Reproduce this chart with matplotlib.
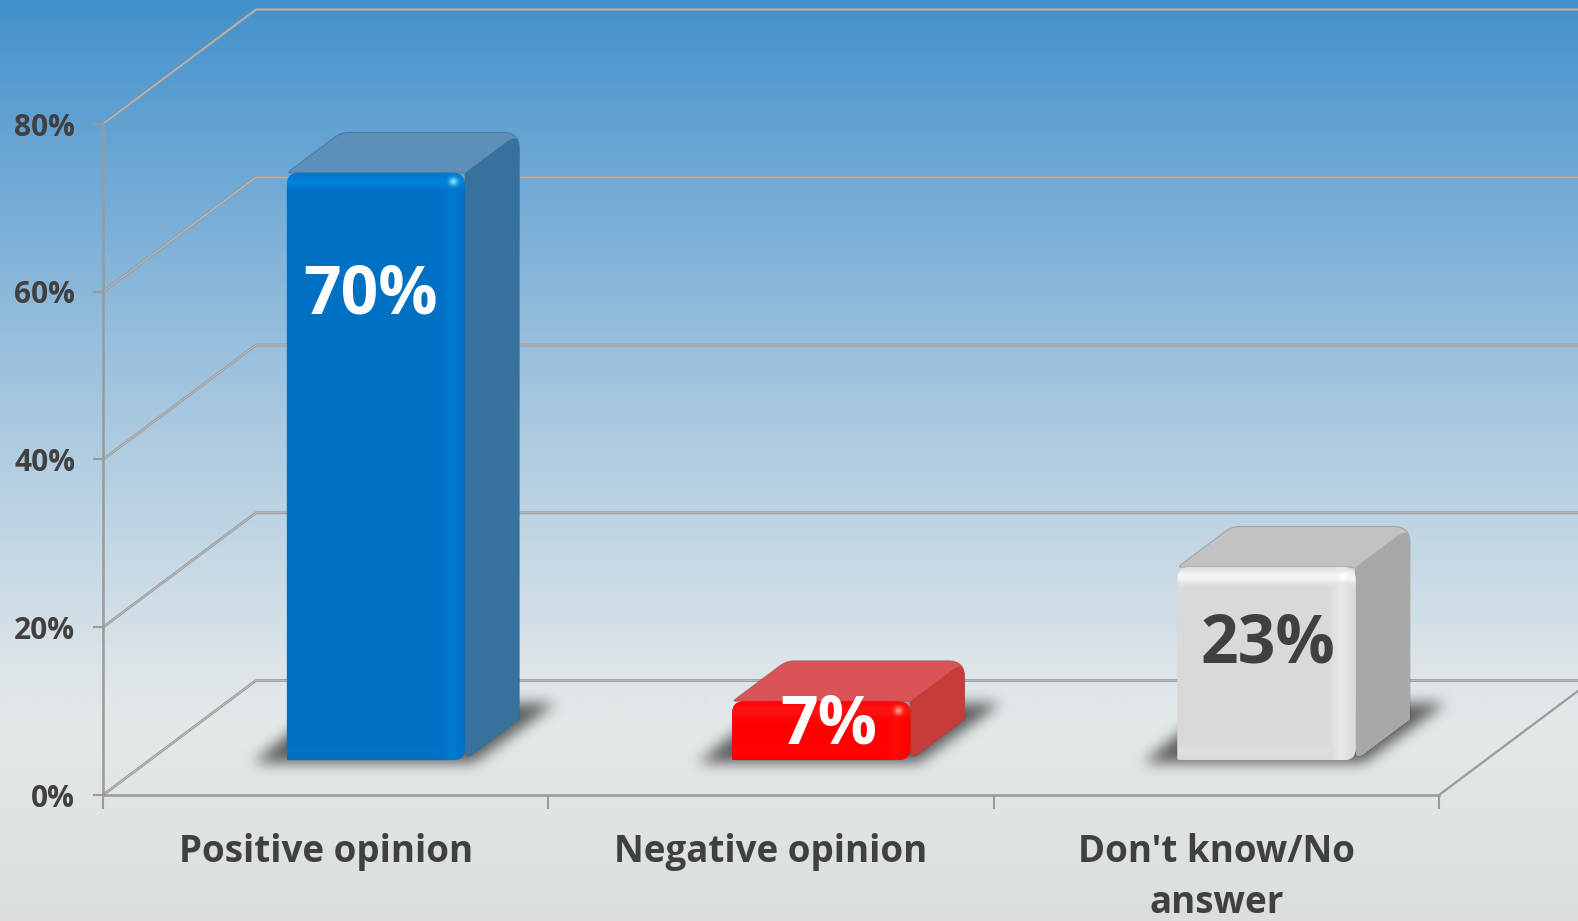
import numpy as np
import matplotlib
matplotlib.use("Agg")
import matplotlib.pyplot as plt
from matplotlib.path import Path
from matplotlib.patches import PathPatch
from matplotlib.colors import to_rgb

# ---- data ----
categories = ["Positive opinion", "Negative opinion", "Don't know/No\nanswer"]
values = [70, 7, 23]
value_labels = ["70%", "7%", "23%"]
y_ticks = [0, 20, 40, 60, 80]
y_tick_labels = ["0%", "20%", "40%", "60%", "80%"]

# ---- style ----
front_colors = ["#0070C2", "#FF0000", "#D9D9D9"]
edge_colors = ["#0082DC", "#FF1212", "#F6F6F6"]
spec_colors = ["#7FE0FF", "#FF9A80", "#FFFFFF"]
side_colors = ["#37729F", "#C63C38", "#A8A8A8"]
top_colors = ["#5C8FBA", "#DA5358", "#C2C2C2"]
label_colors = ["white", "white", "#404040"]
label_px = [(371, 296), (829, 726), (1268, 645)]
text_color = "#404040"
line_color = "#9A9A9A"
FONT = "Open Sans"

W, H = 1578, 921
AX_L, AX_R, AX_B, AX_T = 103, 1439, 795, 124
WALL_DX, WALL_DY = 153.0, 114.5
D0, D1 = 0.305, 0.66
BAR_W = 0.40
BAR_SHIFT = 0.008

fig = plt.figure(figsize=(W / 100, H / 100), dpi=100)

# background gradient
bg = fig.add_axes([0, 0, 1, 1], zorder=0)
stops_y = [0, 200, 400, 600, 680, 730, 921]
stops_c = ["#4291CB", "#75ACD7", "#A5C6DF", "#CEDDE6", "#DFE6E9", "#E3E8E9", "#DADEDF"]
rows = np.arange(H)
stops_rgb = np.array([to_rgb(c) for c in stops_c])
grad = np.stack([np.interp(rows, stops_y, stops_rgb[:, i]) for i in range(3)], axis=1)[:, None, :]
bg.imshow(grad, aspect="auto", extent=(0, 1, 0, 1), origin="upper")
bg.axis("off")

ax = fig.add_axes([AX_L / W, 1 - AX_B / H, (AX_R - AX_L) / W, (AX_B - AX_T) / H], zorder=1)
ax.patch.set_visible(False)
ax.set_xlim(0, len(categories))
ax.set_ylim(0, 80)
PX_X = (AX_R - AX_L) / len(categories)
PX_Y = (AX_B - AX_T) / 80.0


def proj(c, v, d):
    """Oblique projection of (category position, value, depth 0..1) to axes data."""
    return c + d * WALL_DX / PX_X, v + d * WALL_DY / PX_Y


def rounded(points, radii):
    """Closed path through data-space points with corners rounded by radii (px)."""
    pts = np.array(points, float) * [PX_X, PX_Y]
    n = len(pts)
    verts, codes = [], []
    for i in range(n):
        p, a, b = pts[i], pts[i - 1], pts[(i + 1) % n]
        r = radii[i]
        ua = (a - p) / np.linalg.norm(a - p)
        ub = (b - p) / np.linalg.norm(b - p)
        s, e = p + ua * r, p + ub * r
        verts.append(s); codes.append(Path.MOVETO if i == 0 else Path.LINETO)
        verts.extend([p, e]); codes.extend([Path.CURVE3, Path.CURVE3])
    verts.append(verts[0]); codes.append(Path.CLOSEPOLY)
    return Path(np.array(verts) / [PX_X, PX_Y], codes)


def box_blur(a, k):
    ker = np.ones(2 * k + 1) / (2 * k + 1)
    for _ in range(3):
        a = np.apply_along_axis(lambda m: np.convolve(m, ker, mode="same"), 0, a)
        a = np.apply_along_axis(lambda m: np.convolve(m, ker, mode="same"), 1, a)
    return a


def draw_shadow(x0, x1):
    base_l = proj(x0, 0, D0)
    base_r = proj(x1, 0, D0)
    poly = [
        (base_l[0] - 34 / PX_X, base_l[1] - 3 / PX_Y),
        (base_r[0] + 8 / PX_X, base_r[1] - 3 / PX_Y),
        (base_r[0] + 90 / PX_X, base_r[1] + 56 / PX_Y),
        (base_l[0] + 40 / PX_X, base_l[1] + 56 / PX_Y),
    ]
    pad = 50
    xa, xb = base_l[0] - (34 + pad) / PX_X, base_r[0] + (90 + pad) / PX_X
    ya, yb = base_l[1] - (3 + pad) / PX_Y, base_r[1] + (56 + pad) / PX_Y
    nx, ny = int((xb - xa) * PX_X), int((yb - ya) * PX_Y)
    xs = np.linspace(xa, xb, nx)
    ys = np.linspace(yb, ya, ny)
    gx, gy = np.meshgrid(xs, ys)
    mask = Path(poly).contains_points(np.c_[gx.ravel(), gy.ravel()]).reshape(ny, nx).astype(float)
    alpha = box_blur(mask, 6) * 0.85
    img = np.zeros((ny, nx, 4))
    img[..., :3] = 0.27
    img[..., 3] = alpha
    ax.imshow(img, extent=(xa, xb, ya, yb), origin="upper", aspect="auto", zorder=3,
              interpolation="bilinear", clip_on=False)


def draw_bar(i, val):
    x0 = i + 0.5 + BAR_SHIFT - BAR_W / 2
    x1 = x0 + BAR_W
    draw_shadow(x0, x1)

    fl = proj(x0, 0, D0); fr = proj(x1, 0, D0)
    tl = proj(x0, val, D0); tr = proj(x1, val, D0)
    bbr = proj(x1, 0, D1); btr = proj(x1, val, D1); btl = proj(x0, val, D1)

    # top + side silhouette
    sil = rounded([tl, btl, btr, bbr, fr, tr], [4, 8, 16, 1, 10, 4])
    ax.add_patch(PathPatch(sil, facecolor=top_colors[i], edgecolor="#00000030", lw=0.8, zorder=4))

    # side face
    side = rounded([tr, btr, bbr, fr], [2, 16, 1, 10])
    ax.add_patch(PathPatch(side, facecolor=side_colors[i], edgecolor="none", zorder=5))

    # front face with a shaded image clipped to a rounded outline
    front = rounded([fl, tl, tr, fr], [2, 12, 12, 12])
    fp = PathPatch(front, facecolor=front_colors[i], edgecolor="none", zorder=6)
    ax.add_patch(fp)
    nx = int((fr[0] - fl[0]) * PX_X)
    ny = int((tl[1] - fl[1]) * PX_Y)
    px, py = np.meshgrid(np.arange(nx), np.arange(ny))
    base = np.array(to_rgb(front_colors[i]))
    edge = np.array(to_rgb(edge_colors[i]))
    spec = np.array(to_rgb(spec_colors[i]))
    d_top = np.abs(py - 9)
    d_right = np.abs(nx - 1 - px - 14)
    d_bot = np.abs(ny - 1 - py - 9)
    w = np.maximum.reduce([np.exp(-(d_top / 7.0) ** 2),
                           np.exp(-(d_right / 9.0) ** 2) * 0.5,
                           np.exp(-(d_bot / 5.0) ** 2) * 0.2])
    s = np.exp(-(((px - (nx - 13)) / 4.0) ** 2 + ((py - 9) / 4.0) ** 2))
    img = base + (edge - base) * w[..., None]
    img = img + (spec - img) * s[..., None]
    im = ax.imshow(np.clip(img, 0, 1), extent=(fl[0], fr[0], fl[1], tl[1]), origin="upper",
                   aspect="auto", zorder=7, interpolation="bilinear")
    im.set_clip_path(fp)


# walls: gridlines on back wall and side wall
for v in y_ticks:
    a = proj(0, v, 0); b = proj(0, v, 1)
    c = proj(len(categories) + 1, v, 1)
    for lw, col in ((2.0, line_color), (0.5, "#C8CCD0")):
        ax.plot([a[0], b[0], c[0]], [a[1], b[1], c[1]], color=col, lw=lw, clip_on=False, zorder=2,
                solid_joinstyle="round")
a = proj(len(categories), 0, 0); b = proj(len(categories), 0, 1)
ax.plot([a[0], b[0]], [a[1], b[1]], color=line_color, lw=1.6, clip_on=False, zorder=2)

for i, val in enumerate(values):
    draw_bar(i, val)

ax.set_xlim(0, len(categories))
ax.set_ylim(0, 80)

# axes furniture
for name in ("top", "right"):
    ax.spines[name].set_visible(False)
for name in ("left", "bottom"):
    ax.spines[name].set_color(line_color)
    ax.spines[name].set_linewidth(1.8)

ax.set_yticks(y_ticks)
ax.set_yticklabels(y_tick_labels, fontfamily=FONT, fontweight="bold", fontsize=21.5, color=text_color)
ax.tick_params(axis="y", length=7, width=1.5, color=line_color, pad=13)
ax.set_xticks(range(len(categories) + 1))
ax.set_xticklabels([])
ax.tick_params(axis="x", which="major", length=10, width=1.5, color=line_color)
ax.set_xticks(np.arange(len(categories)) + 0.5, minor=True)
ax.set_xticklabels(categories, minor=True, fontfamily=FONT, fontweight="bold", fontsize=26.5,
                   color=text_color, linespacing=1.42)
ax.tick_params(axis="x", which="minor", length=0, pad=27.7)

# data labels
for i, lab in enumerate(value_labels):
    fig.text(label_px[i][0] / W, 1 - label_px[i][1] / H, lab, ha="center", va="center",
             color=label_colors[i], fontfamily=FONT, fontweight="bold", fontsize=47.5, zorder=10)

fig.savefig("out.png", dpi=100)
